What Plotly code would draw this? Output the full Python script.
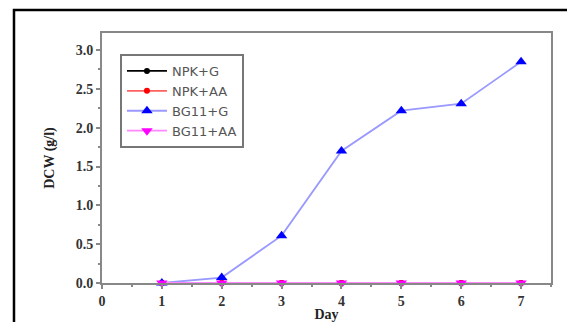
import plotly.graph_objects as go

days = [1, 2, 3, 4, 5, 6, 7]
npk_g = [0, 0, 0, 0, 0, 0, 0]
npk_aa = [0, 0, 0, 0, 0, 0, 0]
bg11_g = [0.0, 0.07, 0.61, 1.70, 2.22, 2.31, 2.85]
bg11_aa = [0, 0, 0, 0, 0, 0, 0]

x_ticks = [0, 1, 2, 3, 4, 5, 6, 7]
y_ticks = [0.0, 0.5, 1.0, 1.5, 2.0, 2.5, 3.0]
y_tick_text = ["0.0", "0.5", "1.0", "1.5", "2.0", "2.5", "3.0"]

fig = go.Figure()
series = [
    ("NPK+G", npk_g, "#000000", "#000000", "circle", 6),
    ("NPK+AA", npk_aa, "#ff6060", "#ff0000", "circle", 6),
    ("BG11+G", bg11_g, "#9999ff", "#0000ff", "triangle-up", 10),
    ("BG11+AA", bg11_aa, "#ff88ff", "#ff00ff", "triangle-down", 10),
]
for name, vals, lc, mc, sym, ms in series:
    fig.add_trace(go.Scatter(
        x=days, y=vals, name=name, mode="lines+markers",
        line=dict(color=lc, width=1.8),
        marker=dict(color=mc, symbol=sym, size=ms),
        cliponaxis=False,
    ))

serif = "Liberation Serif, Times New Roman, serif"
tick_font = dict(family=serif, size=14, color="#333")
title_font = dict(family=serif, size=14, color="#222")

fig.update_layout(
    width=567, height=322,
    margin=dict(l=102, r=16, t=33, b=39),
    paper_bgcolor="white", plot_bgcolor="white",
    showlegend=True,
    legend=dict(
        x=0.04, y=0.916, xanchor="left", yanchor="top",
        bgcolor="white", bordercolor="#777", borderwidth=2,
        font=dict(family="DejaVu Sans, Arial, sans-serif", size=13, color="#555"),
        tracegroupgap=0, itemwidth=40,
    ),
    xaxis=dict(
        range=[0, 7.5], tickvals=x_ticks,
        ticktext=["<b>%d</b>" % v for v in x_ticks],
        showgrid=False, zeroline=False, automargin=False,
        showline=True, linecolor="#888", linewidth=2, mirror=True,
        ticks="outside", ticklen=4, tickcolor="#888", tickwidth=1.5,
        minor=dict(dtick=0.5, tick0=0, ticks="outside", ticklen=2, tickcolor="#888"),
        tickfont=tick_font,
        title=dict(text="<b>Day</b>", font=title_font, standoff=22),
    ),
    yaxis=dict(
        range=[0, 3.22], tickvals=y_ticks,
        ticktext=["<b>%s</b>" % t for t in y_tick_text],
        showgrid=False, zeroline=False, automargin=False,
        showline=True, linecolor="#888", linewidth=2, mirror=True,
        ticks="outside", ticklen=4, tickcolor="#888", tickwidth=1.5,
        minor=dict(dtick=0.25, tick0=0, ticks="outside", ticklen=2, tickcolor="#888"),
        tickfont=tick_font,
        title=dict(text="<b>DCW (g/l)</b>", font=title_font, standoff=18),
    ),
)

# outer frame around the figure panel
fig.add_shape(type="rect", xref="paper", yref="paper",
              x0=-0.196, y0=-0.25, x1=1.1, y1=1.092,
              line=dict(color="#000", width=2.5), fillcolor="rgba(0,0,0,0)", layer="above")

fig.write_html("out.html")
